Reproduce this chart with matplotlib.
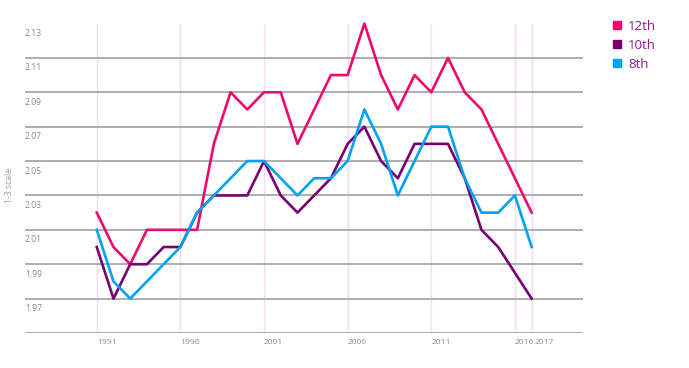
import matplotlib
matplotlib.use("Agg")
import matplotlib.pyplot as plt
from matplotlib.lines import Line2D

plt.rcParams['font.family'] = ['Open Sans', 'DejaVu Sans']

years = list(range(1991, 2018))
grade12 = [2.02, 2.00, 1.99, 2.01, 2.01, 2.01, 2.01, 2.06, 2.09, 2.08, 2.09, 2.09, 2.06, 2.08,
           2.10, 2.10, 2.13, 2.10, 2.08, 2.10, 2.09, 2.11, 2.09, 2.08, 2.06, 2.04, 2.02]
grade10 = [2.00, 1.97, 1.99, 1.99, 2.00, 2.00, 2.02, 2.03, 2.03, 2.03, 2.05, 2.03, 2.02, 2.03,
           2.04, 2.06, 2.07, 2.05, 2.04, 2.06, 2.06, 2.06, 2.04, 2.01, 2.00, 1.985, 1.97]
grade8 = [2.01, 1.98, 1.97, 1.98, 1.99, 2.00, 2.02, 2.03, 2.04, 2.05, 2.05, 2.04, 2.03, 2.04,
          2.04, 2.05, 2.08, 2.06, 2.03, 2.05, 2.07, 2.07, 2.04, 2.02, 2.02, 2.03, 2.00]
series_names = ['12th', '10th', '8th']
colors = ['#ec0a6c', '#77006f', '#00a2f2']
year_ticks = [1991, 1996, 2001, 2006, 2011, 2016, 2017]
y_ticks = [1.97, 1.99, 2.01, 2.03, 2.05, 2.07, 2.09, 2.11, 2.13]

fig = plt.figure(figsize=(6.89, 3.68), dpi=100)
ax = fig.add_axes([25 / 689, 35 / 368, 558 / 689, 309.5 / 368])
ax.set_xlim(1986.71, 2020.07)
ax.set_ylim(1.95, 2.13)

for s in ax.spines.values():
    s.set_visible(False)
ax.set_xticks([])
ax.set_yticks([])

# horizontal grid
for v in y_ticks:
    ax.axhline(v, color='#a8a8a8', lw=1.3, zorder=1)
    ax.annotate(f'{v:.2f}', xy=(0, v), xycoords=('axes fraction', 'data'),
                xytext=(0, -4), textcoords='offset points', ha='left', va='top',
                fontsize=6.2, color='#8a8a8a')
ax.axhline(1.95, color='#a0a0a0', lw=1.3, zorder=1)

# year markers
for yr in year_ticks:
    ax.axvline(yr, color='#f8d8f8', lw=1.0, zorder=0)
    dx = 2 if yr == 2017 else 0
    ax.annotate(str(yr), xy=(yr, 1.95), xycoords='data',
                xytext=(dx, -4), textcoords='offset points', ha='left', va='top',
                fontsize=6.1, color='#8a8a8a')

for vals, c in zip([grade12, grade10, grade8], colors):
    ax.plot(years, vals, color=c, lw=1.9, zorder=3, clip_on=False)

fig.text(9 / 689, 1 - 185 / 368, '1-3 scale', rotation=90, ha='center', va='center',
         fontsize=6.2, color='#9a9a9a')

handles = [Line2D([], [], marker='s', color=c, ls='none', markersize=5.5) for c in colors]
leg = fig.legend(handles, series_names, loc='upper left', bbox_to_anchor=(599 / 689, 1 - 8 / 368),
                 frameon=False, fontsize=9.5, handletextpad=0.3, labelspacing=0.45,
                 handlelength=1.0)
for t in leg.get_texts():
    t.set_color('#8b1a8b')

fig.savefig('out.png', dpi=100)
